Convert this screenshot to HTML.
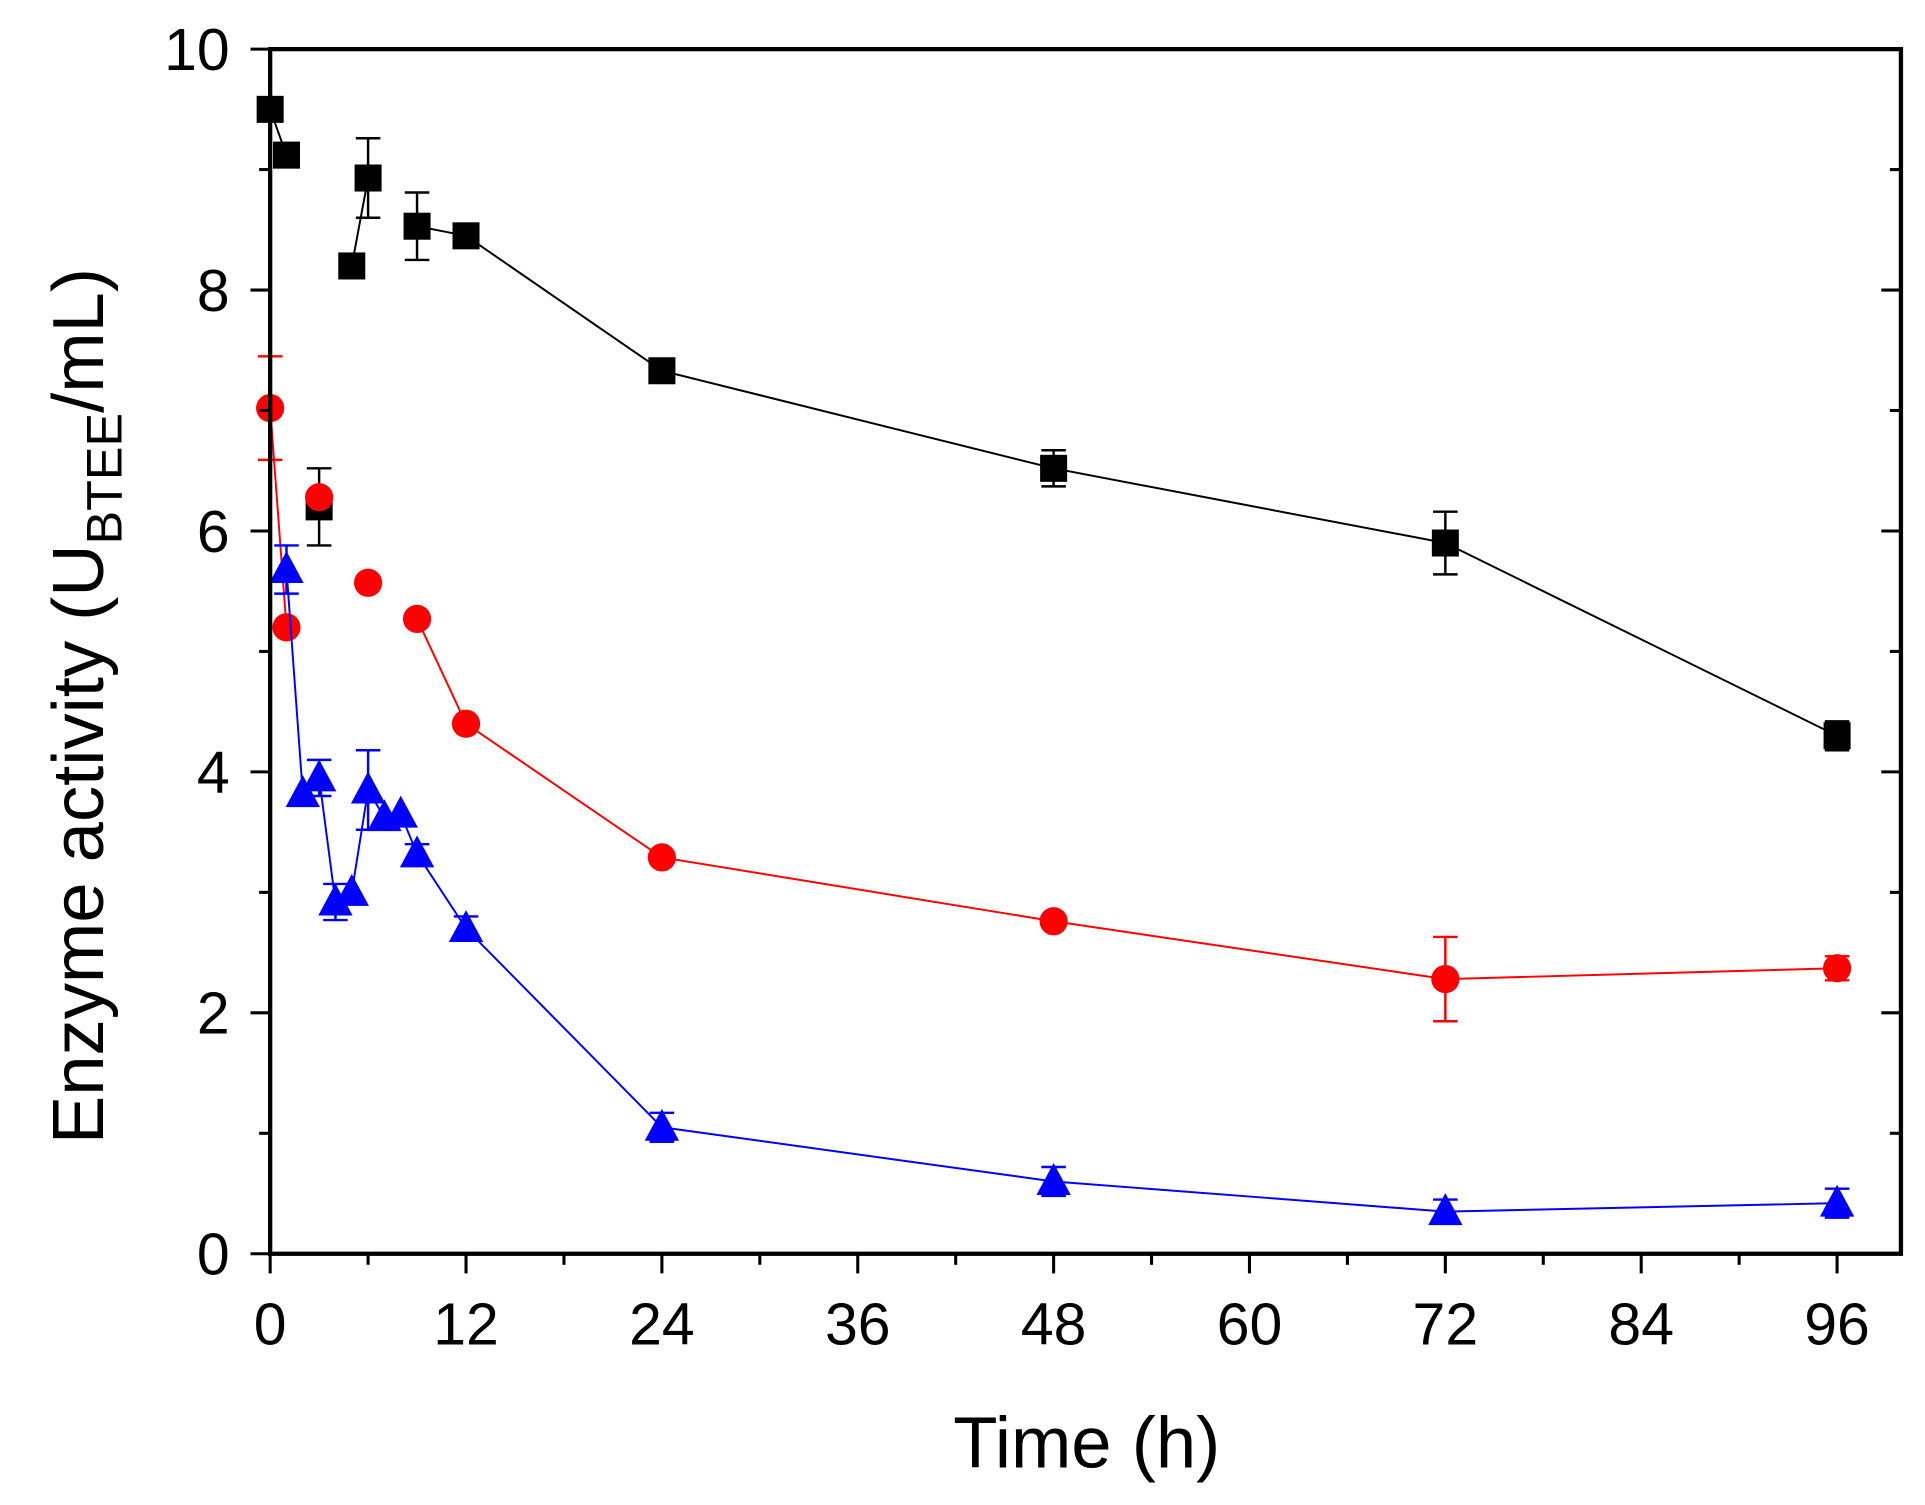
<!DOCTYPE html>
<html><head><meta charset="utf-8"><style>
html,body{margin:0;padding:0;background:#fff;}
svg{display:block;font-family:"Liberation Sans",Arial,sans-serif;}
</style></head><body>
<svg id="chart" width="1925" height="1505" viewBox="0 0 1567.6 1225.6" preserveAspectRatio="none" xmlns="http://www.w3.org/2000/svg">
<rect width="1567.6" height="1225.6" fill="#fff"/>
<g id="plot"></g>
<text x="885" y="1195" font-size="59" text-anchor="middle">Time (h)</text>
<text transform="translate(84,575) rotate(-90)" font-size="59" text-anchor="middle">Enzyme activity (U<tspan font-size="41" dy="15">BTEE</tspan><tspan dy="-15">/mL)</tspan></text>
</svg>
<script>
const xTicks=[0,12,24,36,48,60,72,84,96];
const yTicks=[0,2,4,6,8,10];
const blackX=[0,1,3,5,6,9,12,24,48,72,96];
const blackY=[9.5,9.12,6.2,8.2,8.93,8.53,8.45,7.33,6.52,5.9,4.3];
const blackErr=[0,0.1,0.32,0,0.33,0.28,0,0,0.15,0.26,0.12];
const blackLink=[0,1,0,0,1,0,1,1,1,1,1];
const redX=[0,1,3,6,9,12,24,48,72,96];
const redY=[7.02,5.2,6.28,5.57,5.27,4.4,3.29,2.76,2.28,2.37];
const redErr=[0.43,0,0,0,0,0,0,0,0.35,0.1];
const redLink=[0,1,0,0,0,1,1,1,1,1];
const blueX=[1,2,3,4,5,6,7,8,9,12,24,48,72,96];
const blueY=[5.68,3.82,3.95,2.92,3.0,3.85,3.62,3.65,3.32,2.7,1.05,0.6,0.35,0.42];
const blueErr=[0.2,0,0.15,0.15,0,0.33,0,0,0.08,0.1,0.12,0.12,0.1,0.12];
const blueLink=[0,1,1,1,1,1,1,1,1,1,1,1,1,1];

const L=220,R=1548,T=40,B=1021;
const X=v=>L+(v/96)*(1496-L);
const Y=v=>B-(v/10)*(B-T);
const NS="http://www.w3.org/2000/svg";
const g=document.getElementById('plot');
function mk(tag,attrs,parent){const e=document.createElementNS(NS,tag);for(const k in attrs)e.setAttribute(k,attrs[k]);(parent||g).appendChild(e);return e;}

function series(xs,ys,errs,links,color,shape,name){
  const sg=mk('g',{});
  
  
  for(let i=1;i<xs.length;i++){ if(links[i]){
    const l=mk('line',{x1:X(xs[i-1]),y1:Y(ys[i-1]),x2:X(xs[i]),y2:Y(ys[i]),stroke:color,'stroke-width':1.6},sg);
    
    
  }}
  for(let i=0;i<xs.length;i++){
    const cx=X(xs[i]),cy=Y(ys[i]),e=errs[i];
    if(e>0){
      const eg=mk('g',{stroke:color,'stroke-width':2},sg);
      
      
      mk('line',{x1:cx,y1:Y(ys[i]+e),x2:cx,y2:Y(ys[i]-e)},eg);
      mk('line',{x1:cx-10,y1:Y(ys[i]+e),x2:cx+10,y2:Y(ys[i]+e)},eg);
      mk('line',{x1:cx-10,y1:Y(ys[i]-e),x2:cx+10,y2:Y(ys[i]-e)},eg);
    }
    let m;
    if(shape==='square') m=mk('rect',{x:cx-11,y:cy-11,width:22,height:22,fill:color},sg);
    else if(shape==='circle') m=mk('circle',{cx:cx,cy:cy,r:11.5,fill:color},sg);
    else m=mk('polygon',{points:`${cx},${cy-15} ${cx-14},${cy+11} ${cx+14},${cy+11}`,fill:color},sg);
    
    
  }
}
series(blackX,blackY,blackErr,blackLink,'#000','square','black');
series(redX,redY,redErr,redLink,'#ff0000','circle','red');
series(blueX,blueY,blueErr,blueLink,'#0000ff','triangle','blue');

const frame=mk('rect',{x:L,y:T,width:R-L,height:B-T,fill:'none',stroke:'#000','stroke-width':3.5});


for(let v=0;v<=96;v+=6){
  const major=v%12===0;
  const t=mk('line',{x1:X(v),y1:B,x2:X(v),y2:B+(major?16:9),stroke:'#000','stroke-width':2.5});
  
  
}
xTicks.forEach(v=>{
  const t=mk('text',{x:X(v),y:1095,'font-size':48,'text-anchor':'middle'});
  t.textContent=v;
  
  
});
for(let v=0;v<=10;v+=1){
  const major=v%2===0;
  const t=mk('line',{x1:L-(major?16:9),y1:Y(v),x2:L,y2:Y(v),stroke:'#000','stroke-width':2.5});
  
  
  const t2=mk('line',{x1:R-(major?16:9),y1:Y(v),x2:R,y2:Y(v),stroke:'#000','stroke-width':2.5});
  
  
}
yTicks.forEach(v=>{
  const t=mk('text',{x:187,y:Y(v)+17,'font-size':48,'text-anchor':'end'});
  t.textContent=v;
  
  
});
</script>
</body></html>
